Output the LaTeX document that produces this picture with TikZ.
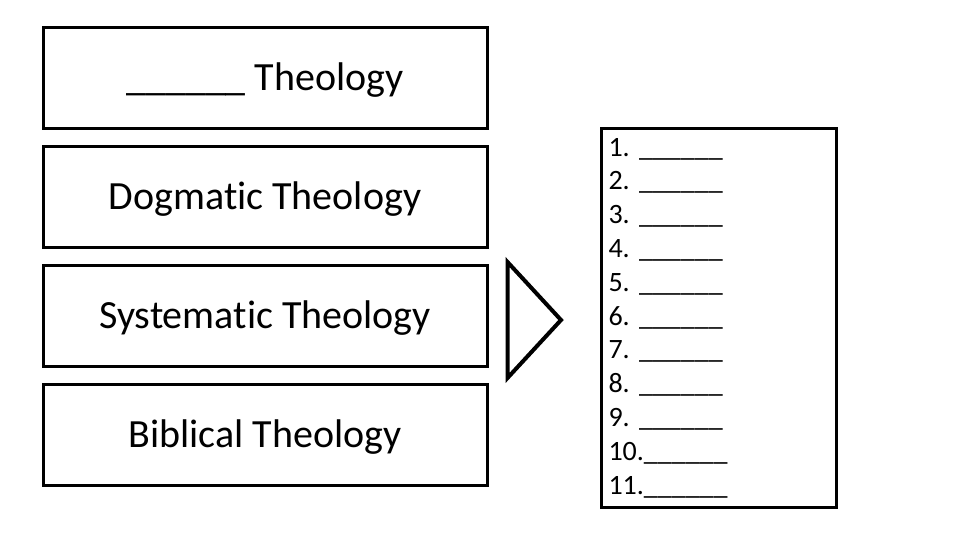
\documentclass[tikz,border=0pt]{standalone}
\usepackage{fontspec}
\setmainfont{Carlito}[Ligatures={NoCommon}]
\usetikzlibrary{positioning}
\tikzset{
  theobox/.style={draw=black, line width=3pt, minimum width=444pt, minimum height=101pt, inner sep=0pt, text height=33pt, text depth=8pt, font=\fontsize{40}{48}\selectfont},
  listbox/.style={draw=black, line width=2.5pt, minimum width=235pt, minimum height=379pt, inner xsep=7pt, inner ysep=0pt, align=left, text width=221pt, font=\fontsize{28}{33.8}\selectfont}
}
\begin{document}
\frenchspacing
\begin{tikzpicture}[x=1pt, y=-1pt]
  \useasboundingbox (0,0) rectangle (960,540);
  % Theology boxes
  \node[theobox] (blank) at (265,78) {\_\_\_\_\_\_ Theology};
  \node[theobox] (dogmatic) at (265,197) {Dogmatic Theology};
  \node[theobox] (systematic) at (265,316) {Systematic Theology};
  \node[theobox] (biblical) at (265,435) {Biblical Theology};
  % Triangle pointer
  \draw[line width=4pt, line join=miter] (507.5,262) -- (507.5,378) -- (561,320) -- cycle;
  % List box
  \node[listbox] (steps) at (719,318) {1. \_\_\_\_\_\_\\2. \_\_\_\_\_\_\\3. \_\_\_\_\_\_\\4. \_\_\_\_\_\_\\5. \_\_\_\_\_\_\\6. \_\_\_\_\_\_\\7. \_\_\_\_\_\_\\8. \_\_\_\_\_\_\\9. \_\_\_\_\_\_\\10.\_\_\_\_\_\_\\11.\_\_\_\_\_\_};
\end{tikzpicture}
\end{document}
